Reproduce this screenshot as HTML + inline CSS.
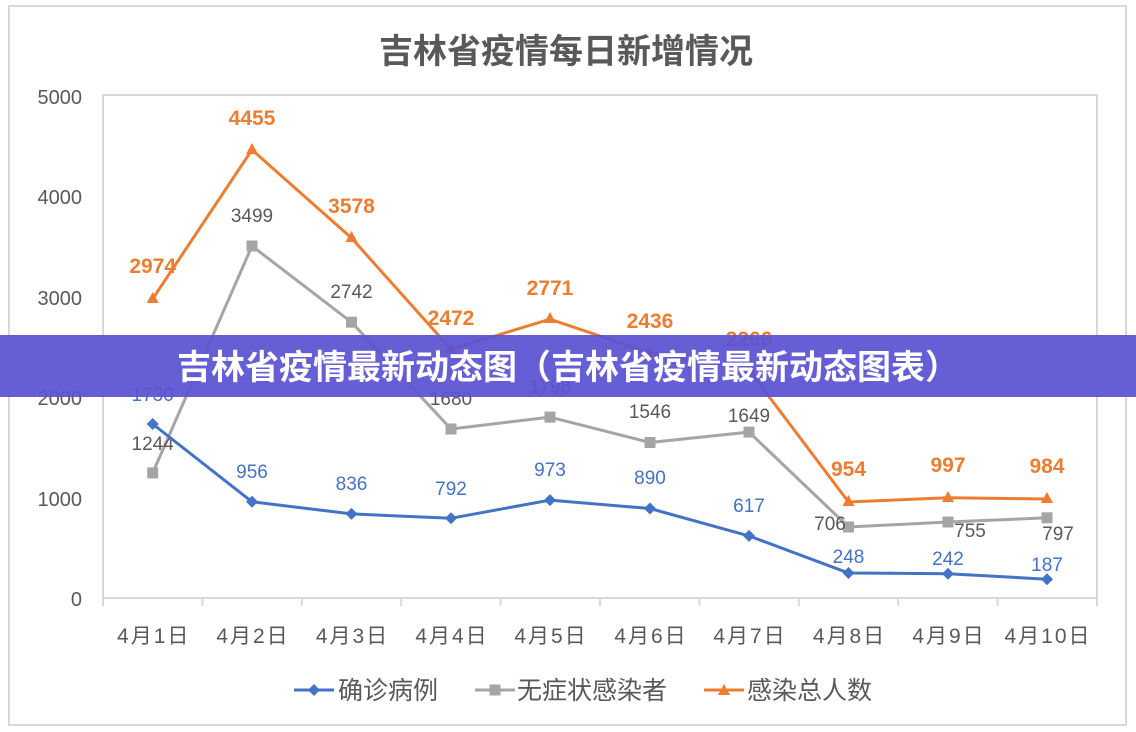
<!DOCTYPE html>
<html><head><meta charset="utf-8"><style>
html,body{margin:0;padding:0;background:#fff;width:1136px;height:732px;overflow:hidden}
svg{display:block}
</style></head><body>
<svg width="1136" height="732" viewBox="0 0 1136 732" font-family="Liberation Sans, Noto Sans CJK SC, sans-serif">
<rect x="0" y="0" width="1136" height="732" fill="#fff"/>
<rect x="9" y="6" width="1117" height="719" fill="none" stroke="#d9d9d9" stroke-width="2"/>
<text x="566" y="63" text-anchor="middle" font-size="34" font-weight="bold" fill="#595959" font-family="Noto Sans CJK SC, sans-serif">吉林省疫情每日新增情况</text>
<rect x="103" y="95" width="994" height="503" fill="none" stroke="#d9d9d9" stroke-width="2"/>
<g stroke="#d9d9d9" stroke-width="2">
<line x1="103" y1="598" x2="103" y2="606"/><line x1="202.4" y1="598" x2="202.4" y2="606"/><line x1="301.8" y1="598" x2="301.8" y2="606"/><line x1="401.2" y1="598" x2="401.2" y2="606"/><line x1="500.6" y1="598" x2="500.6" y2="606"/><line x1="600" y1="598" x2="600" y2="606"/><line x1="699.4" y1="598" x2="699.4" y2="606"/><line x1="798.8" y1="598" x2="798.8" y2="606"/><line x1="898.2" y1="598" x2="898.2" y2="606"/><line x1="997.6" y1="598" x2="997.6" y2="606"/><line x1="1097" y1="598" x2="1097" y2="606"/>
</g>
<g font-size="20" fill="#595959" text-anchor="end">
<text x="82" y="104">5000</text><text x="82" y="204">4000</text><text x="82" y="305">3000</text><text x="82" y="405">2000</text><text x="82" y="506">1000</text><text x="82" y="606">0</text>
</g>
<g font-size="21" fill="#595959" text-anchor="middle" letter-spacing="2">
<text x="153.7" y="643">4月1日</text><text x="253" y="643">4月2日</text><text x="352.5" y="643">4月3日</text><text x="452" y="643">4月4日</text><text x="551" y="643">4月5日</text><text x="651" y="643">4月6日</text><text x="750" y="643">4月7日</text><text x="849.5" y="643">4月8日</text><text x="949" y="643">4月9日</text><text x="1048" y="643">4月10日</text>
</g>
<polyline fill="none" stroke="#ed7d31" stroke-width="3" points="152.7,298.8 252,149.8 351.5,238 451,349.3 550,319.2 650,352.9 749,370 848.5,502 948,497.7 1047,499"/>
<g fill="#ed7d31">
<polygon points="152.7,292 146.7,303 158.7,303"/><polygon points="252,143 246,154 258,154"/><polygon points="351.5,231 345.5,242 357.5,242"/><polygon points="451,342 445,353 457,353"/><polygon points="550,312 544,323 556,323"/><polygon points="650,346 644,357 656,357"/><polygon points="749,363 743,374 755,374"/><polygon points="848.5,495 842.5,506 854.5,506"/><polygon points="948,491 942,502 954,502"/><polygon points="1047,492 1041,503 1053,503"/>
</g>
<g font-size="21" font-weight="bold" fill="#ed7d31" text-anchor="middle">
<text x="152.7" y="273">2974</text><text x="252" y="125">4455</text><text x="351.5" y="213">3578</text><text x="451" y="325">2472</text><text x="550" y="295">2771</text><text x="650" y="328">2436</text><text x="749" y="346">2266</text><text x="848.5" y="476">954</text><text x="948" y="472">997</text><text x="1047" y="473">984</text>
</g>
<polyline fill="none" stroke="#a5a5a5" stroke-width="3" points="152.7,472.9 252,246 351.5,322.2 451,429 550,417.1 650,442.5 749,432.1 848.5,527 948,522 1047,517.8"/>
<g fill="#a5a5a5">
<rect x="147.2" y="467.4" width="11" height="11"/><rect x="246.5" y="240.5" width="11" height="11"/><rect x="346" y="316.7" width="11" height="11"/><rect x="445.5" y="423.5" width="11" height="11"/><rect x="544.5" y="411.6" width="11" height="11"/><rect x="644.5" y="437" width="11" height="11"/><rect x="743.5" y="426.6" width="11" height="11"/><rect x="843" y="521.5" width="11" height="11"/><rect x="942.5" y="516.5" width="11" height="11"/><rect x="1041.5" y="512.3" width="11" height="11"/>
</g>
<g font-size="19" fill="#595959" text-anchor="middle">
<text x="152.7" y="450">1244</text><text x="252" y="222">3499</text><text x="351.5" y="298">2742</text><text x="451" y="405">1680</text><text x="550" y="393">1798</text><text x="650" y="418">1546</text><text x="749" y="422">1649</text><text x="830" y="530">706</text><text x="970" y="537">755</text><text x="1058" y="540">797</text>
</g>
<polyline fill="none" stroke="#4472c4" stroke-width="3" points="152.7,424 252,501.8 351.5,513.9 451,518.3 550,500.1 650,508.5 749,535.9 848.5,573 948,573.7 1047,579.2"/>
<g fill="#4472c4">
<polygon points="152.7,418 158.7,424 152.7,430 146.7,424"/><polygon points="252,495.8 258,501.8 252,507.8 246,501.8"/><polygon points="351.5,507.9 357.5,513.9 351.5,519.9 345.5,513.9"/><polygon points="451,512.3 457,518.3 451,524.3 445,518.3"/><polygon points="550,494.1 556,500.1 550,506.1 544,500.1"/><polygon points="650,502.5 656,508.5 650,514.5 644,508.5"/><polygon points="749,529.9 755,535.9 749,541.9 743,535.9"/><polygon points="848.5,567 854.5,573 848.5,579 842.5,573"/><polygon points="948,567.7 954,573.7 948,579.7 942,573.7"/><polygon points="1047,573.2 1053,579.2 1047,585.2 1041,579.2"/>
</g>
<g font-size="19" fill="#4472c4" text-anchor="middle">
<text x="152.7" y="401">1730</text><text x="252" y="478">956</text><text x="351.5" y="490">836</text><text x="451" y="495">792</text><text x="550" y="476">973</text><text x="650" y="484">890</text><text x="749" y="512">617</text><text x="848.5" y="563">248</text><text x="948" y="565">242</text><text x="1047" y="571">187</text>
</g>
<line x1="294" y1="690" x2="334" y2="690" stroke="#4472c4" stroke-width="3"/><polygon points="314,684 320,690 314,696 308,690" fill="#4472c4"/>
<text x="338" y="699" font-size="25" fill="#595959">确诊病例</text>
<line x1="475" y1="690" x2="515" y2="690" stroke="#a5a5a5" stroke-width="3"/><rect x="489.5" y="684.5" width="11" height="11" fill="#a5a5a5"/>
<text x="517" y="699" font-size="25" fill="#595959">无症状感染者</text>
<line x1="704" y1="690" x2="744" y2="690" stroke="#ed7d31" stroke-width="3"/><polygon points="724,684 718,695 730,695" fill="#ed7d31"/>
<text x="747" y="699" font-size="25" fill="#595959">感染总人数</text>
<rect x="0" y="335" width="1136" height="62" fill="#5a52d2" fill-opacity="0.93"/>
<text x="568" y="379" text-anchor="middle" font-size="34" font-weight="bold" fill="#fff" font-family="Noto Sans CJK SC, sans-serif">吉林省疫情最新动态图（吉林省疫情最新动态图表）</text>
</svg>
</body></html>
